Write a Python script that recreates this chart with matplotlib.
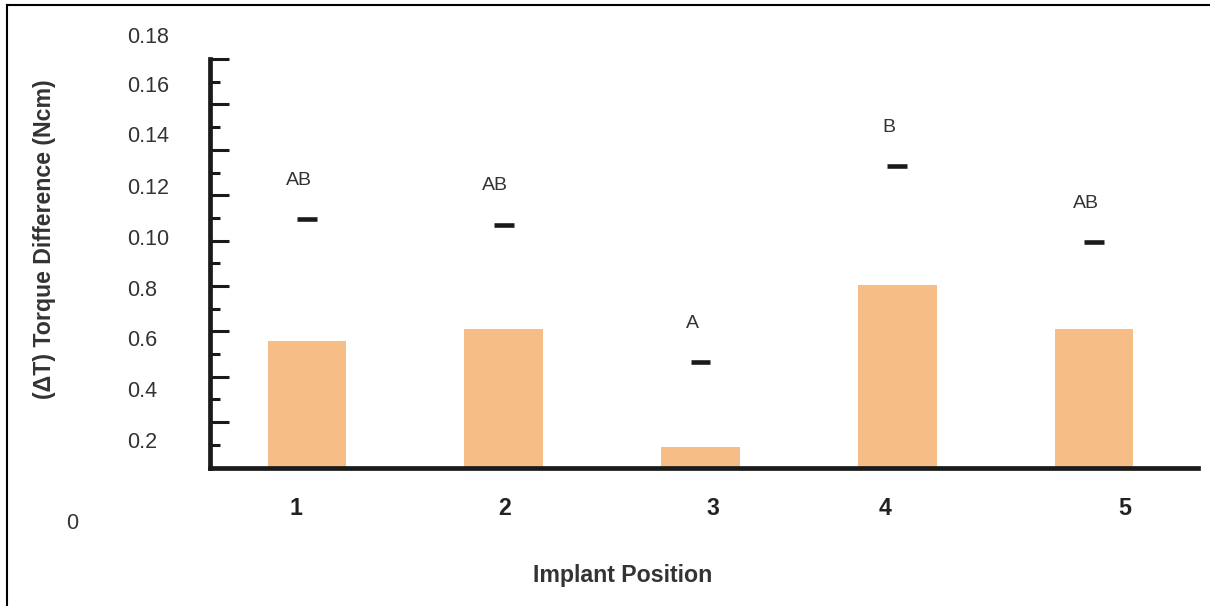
import numpy as np
import matplotlib.pyplot as plt
from matplotlib.lines import Line2D

plt.rcParams['font.family'] = ['Liberation Sans', 'DejaVu Sans']

# data
positions = [1, 2, 3, 4, 5]
pos_labels = ['1', '2', '3', '4', '5']
torque_diff = [0.0558, 0.0610, 0.0089, 0.0804, 0.0610]   # bar heights
upper_sd = [0.1094, 0.1070, 0.0464, 0.1329, 0.0993]      # dash marks
groups = ['AB', 'AB', 'A', 'B', 'AB']

# tick labels as printed (they sit a bit off the tick marks in the original)
ytick_text = ['0.18', '0.16', '0.14', '0.12', '0.10', '0.8', '0.6', '0.4', '0.2']
ytick_at = [0.1908, 0.1690, 0.1470, 0.1241, 0.1014, 0.0789, 0.0569, 0.0348, 0.0123]
xtick_at = [0.944, 2.006, 3.064, 3.938, 5.158]

fig = plt.figure(figsize=(12.1, 6.06), dpi=100)
ax = fig.add_axes([209.5 / 1210, 1 - 535.6 / 606, 988.5 / 1210, 510.6 / 606])
ax.set_xlim(0.5044, 5.5286)
ax.set_ylim(-0.03, 0.195)

ax.bar(positions, torque_diff, width=0.4, color='#F7BD86', zorder=1)
x = np.array(positions)
ax.hlines(upper_sd, x - 0.05, x + 0.05, color='#1a1a1a', lw=3.3, zorder=3)
for xi, yi, g in zip(positions, upper_sd, groups):
    ax.annotate(g, (xi, yi), xytext=(-6, 28), textcoords='offset points',
                ha='center', va='center', fontsize=14, color='#333333')

# axis lines
for s in ['top', 'right']:
    ax.spines[s].set_visible(False)
ax.spines['left'].set_bounds(0, 0.18)
ax.spines['left'].set_linewidth(3.4)
ax.spines['left'].set_color('#1a1a1a')
ax.spines['bottom'].set_position(('data', 0))
ax.spines['bottom'].set_linewidth(3.4)
ax.spines['bottom'].set_color('#1a1a1a')

# tick marks: long every 0.02, short in between
ax.set_yticks([0.02 * i for i in range(1, 10)])
ax.set_yticks([0.01 + 0.02 * i for i in range(9)], minor=True)
ax.tick_params(axis='y', which='major', direction='in', length=13.7, width=2.2,
               color='#1a1a1a', labelleft=False)
ax.tick_params(axis='y', which='minor', direction='in', length=7.2, width=2.2,
               color='#1a1a1a')

# printed y labels
sec = ax.secondary_yaxis('left')
sec.set_yticks(ytick_at, labels=ytick_text)
sec.tick_params(length=0, pad=59, labelsize=15.5, labelcolor='#333333')
sec.spines['left'].set_visible(False)
for lab in sec.get_yticklabels():
    lab.set_ha('left')
ax.text(-0.1453, -0.0247, '0', transform=ax.get_yaxis_transform(),
        ha='left', va='center', fontsize=15.5, color='#333333')

ax.set_xticks(xtick_at, labels=pos_labels)
ax.tick_params(axis='x', length=0, pad=21, labelsize=16.7, labelcolor='#222222')
for lab in ax.get_xticklabels():
    lab.set_fontweight('bold')

ax.set_ylabel('(ΔT) Torque Difference (Ncm)', fontsize=16.7, fontweight='bold',
              color='#333333', va='center')
ax.yaxis.set_label_coords(-0.167, 0.581)
ax.set_xlabel('Implant Position', fontsize=16.7, fontweight='bold',
              color='#333333', va='center')
ax.xaxis.set_label_coords(0.418, -0.079)

# frame lines at top and left of the picture
fig.add_artist(Line2D([7 / 1210, 1], [1 - 5 / 606, 1 - 5 / 606], color='black', lw=1.5))
fig.add_artist(Line2D([7 / 1210, 7 / 1210], [0, 1 - 5 / 606], color='black', lw=1.5))

fig.savefig('out.png', dpi=100)
